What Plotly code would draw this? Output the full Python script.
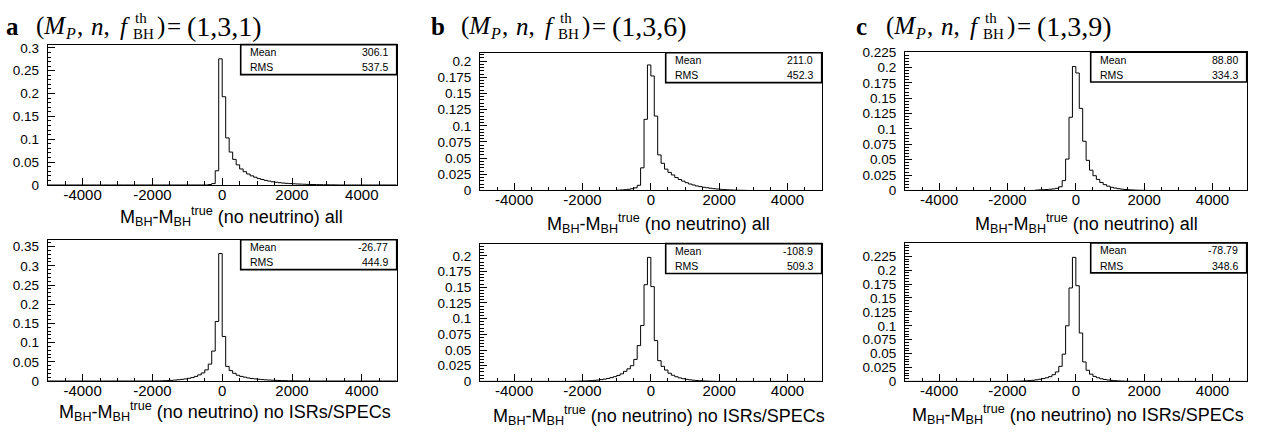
import plotly.graph_objects as go

# ---------------- data ----------------
bin_width = 100
x_low, x_high = -5000, 5000

# normalised bin contents, listed from the first non-empty bin (lower edge given)
a_all_start = -400
a_all = [0.001, 0.003, 0.031, 0.276, 0.193, 0.103, 0.072, 0.056, 0.044, 0.035,
         0.029, 0.024, 0.020, 0.017, 0.014, 0.012, 0.010, 0.0085, 0.007, 0.006,
         0.005, 0.0042, 0.0036, 0.003, 0.0026, 0.0022, 0.0019, 0.0016, 0.0013, 0.0011,
         0.0009, 0.0007, 0.0006, 0.0005, 0.0004, 0.0003, 0.0002]

a_nois_start = -2000
a_nois = [0.0002, 0.0003, 0.0005, 0.0008, 0.0012, 0.0017, 0.0024, 0.0032, 0.0042, 0.0055,
          0.007, 0.009, 0.012, 0.016, 0.021, 0.029, 0.044, 0.078, 0.155, 0.332,
          0.116, 0.038, 0.027, 0.020, 0.015, 0.012, 0.010, 0.008, 0.0065, 0.0055,
          0.0045, 0.0037, 0.003, 0.0025, 0.002, 0.0016, 0.0013, 0.001, 0.0008, 0.0006,
          0.0005, 0.0004, 0.0003, 0.0002]

b_all_start = -1000
b_all = [0.0005, 0.0008, 0.0012, 0.0018, 0.0027, 0.004, 0.008, 0.035, 0.110, 0.194,
         0.177, 0.115, 0.055, 0.042, 0.033, 0.028, 0.024, 0.020, 0.017, 0.0145,
         0.012, 0.010, 0.0085, 0.007, 0.006, 0.005, 0.0042, 0.0035, 0.0028, 0.0023,
         0.0018, 0.0014, 0.0011, 0.0008, 0.0006, 0.0004, 0.0003, 0.0002]

b_nois_start = -2300
b_nois = [0.0002, 0.0003, 0.0005, 0.0007, 0.0009, 0.0012, 0.0016, 0.0021, 0.0028, 0.0036,
          0.0047, 0.006, 0.0075, 0.0095, 0.012, 0.016, 0.020, 0.025, 0.035, 0.057,
          0.089, 0.154, 0.1975, 0.151, 0.065, 0.033, 0.024, 0.018, 0.013, 0.0098,
          0.0074, 0.0056, 0.0043, 0.0033, 0.0025, 0.0019, 0.0014, 0.001, 0.0007, 0.0005,
          0.0003, 0.0002]

c_all_start = -1200
c_all = [0.0006, 0.001, 0.0012, 0.0015, 0.002, 0.0026, 0.0035, 0.006, 0.016, 0.051,
         0.119, 0.2015, 0.191, 0.1335, 0.080, 0.049, 0.033, 0.024, 0.018, 0.013,
         0.0095, 0.007, 0.0052, 0.0039, 0.0029, 0.0022, 0.0016, 0.0012, 0.0009, 0.0006,
         0.0004, 0.0003, 0.0002]

c_nois_start = -1900
c_nois = [0.0002, 0.0003, 0.0005, 0.0007, 0.001, 0.0014, 0.002, 0.0028, 0.0038, 0.005,
          0.0065, 0.0085, 0.012, 0.017, 0.027, 0.049, 0.100, 0.168, 0.223, 0.172,
          0.087, 0.035, 0.020, 0.013, 0.009, 0.0065, 0.0047, 0.0034, 0.0025, 0.0018,
          0.0013, 0.0009, 0.0006, 0.0004, 0.0002]

stats_mean = {"a_all": "306.1", "a_nois": "-26.77", "b_all": "211.0",
              "b_nois": "-108.9", "c_all": "88.80", "c_nois": "-78.79"}
stats_rms = {"a_all": "537.5", "a_nois": "444.9", "b_all": "452.3",
             "b_nois": "509.3", "c_all": "334.3", "c_nois": "348.6"}

panel_letters = ["a", "b", "c"]
panel_params = ["(1,3,1)", "(1,3,6)", "(1,3,9)"]
xlabel_all = "M<sub>BH</sub>-M<sub>BH</sub><sup>true</sup> (no neutrino) all"
xlabel_nois = "M<sub>BH</sub>-M<sub>BH</sub><sup>true</sup> (no neutrino) no ISRs/SPECs"
x_ticks = [-4000, -2000, 0, 2000, 4000]

# ---------------- layout helpers ----------------
W, H = 1273, 437
def px(x):
    return x / W
def py(y):
    return 1 - y / H

SANS = "Liberation Sans, Arial, sans-serif"
SERIF = "Liberation Serif, Times New Roman, serif"

panels = [
    # key, values, start, frame(x0,x1,y0,y1), ymax, dtick, minor, xlabel, label centre
    ("a_all", a_all, a_all_start, (47.7, 396.7, 39.0, 184.3), 0.307, 0.05, 0.01, xlabel_all, 231, 217),
    ("a_nois", a_nois, a_nois_start, (47.7, 396.7, 241.0, 387.3), 0.368, 0.05, 0.01, xlabel_nois, 225, 419),
    ("b_all", b_all, b_all_start, (480.0, 821.7, 47.3, 190.0), 0.213, 0.025, 0.005, xlabel_all, 658, 224),
    ("b_nois", b_nois, b_nois_start, (480.0, 821.7, 245.0, 387.7), 0.2195, 0.025, 0.005, xlabel_nois, 659, 423),
    ("c_all", c_all, c_all_start, (905.0, 1246.7, 46.7, 190.0), 0.225, 0.025, 0.005, xlabel_all, 1086, 224),
    ("c_nois", c_nois, c_nois_start, (905.0, 1246.7, 244.3, 387.7), 0.249, 0.025, 0.005, xlabel_nois, 1078, 422),
]

fig = go.Figure()
shapes = []
annotations = []
layout = dict(width=W, height=H, margin=dict(l=0, r=0, t=0, b=0),
              paper_bgcolor="white", plot_bgcolor="white", showlegend=False)

nbins = (x_high - x_low) // bin_width
edges = [x_low + i * bin_width for i in range(nbins + 1)]

def ann(x, y, text, size, family=SANS, xanchor="left"):
    annotations.append(dict(xref="paper", yref="paper", x=px(x), y=py(y),
                            xanchor=xanchor, yanchor="middle", text=text, showarrow=False,
                            borderpad=0, font=dict(family=family, size=size, color="black")))

for i, (key, vals, start, fr, ymax, dt, mdt, xlab, tx, ty) in enumerate(panels):
    n = i + 1
    xa = "x" if n == 1 else f"x{n}"
    ya = "y" if n == 1 else f"y{n}"
    contents = [0.0] * nbins
    first = (start - x_low) // bin_width
    for j, v in enumerate(vals):
        contents[first + j] = v
    fig.add_trace(go.Scatter(
        x=edges, y=contents + [contents[-1]], xaxis=xa, yaxis=ya,
        mode="lines", line=dict(color="black", width=1, shape="hv"),
        hoverinfo="skip"))
    x0, x1, y0, y1 = fr
    layout["xaxis" if n == 1 else f"xaxis{n}"] = dict(
        domain=[px(x0), px(x1)], anchor=ya, range=[x_low, x_high],
        tickmode="array", tickvals=x_ticks, ticktext=[str(t) for t in x_ticks],
        ticks="inside", ticklen=7, tickwidth=1, tickcolor="black",
        minor=dict(dtick=500, tick0=0, ticks="inside", ticklen=3.5, tickcolor="black", tickwidth=1),
        showline=True, mirror=True, linecolor="black", linewidth=1,
        showgrid=False, zeroline=False, ticklabelstandoff=-4,
        tickfont=dict(family=SANS, size=15, color="black"))
    layout["yaxis" if n == 1 else f"yaxis{n}"] = dict(
        domain=[py(y1), py(y0)], anchor=xa, range=[0, ymax],
        tick0=0, dtick=dt,
        ticks="inside", ticklen=7, tickwidth=1, tickcolor="black",
        minor=dict(dtick=mdt, tick0=0, ticks="inside", ticklen=3.5, tickcolor="black", tickwidth=1),
        showline=True, mirror=True, linecolor="black", linewidth=1,
        showgrid=False, zeroline=False, ticklabelstandoff=5,
        tickfont=dict(family=SANS, size=13.5, color="black"))
    # stats box
    bw, bh = 156, 31
    bx0, bx1, by0, by1 = x1 - bw, x1, y0, y0 + bh
    shapes.append(dict(type="rect", xref="paper", yref="paper",
                       x0=px(bx0), x1=px(bx1), y0=py(by1), y1=py(by0),
                       line=dict(color="black", width=1.6), fillcolor="white"))
    for lab, val, dy in (("Mean", stats_mean[key], 7.8), ("RMS", stats_rms[key], 23.5)):
        ann(bx0 + 8, by0 + dy, lab, 10.5)
        ann(bx1 - 8, by0 + dy, val, 10.5, xanchor="right")
    # x axis title
    ann(tx, ty, xlab, 18, xanchor="center")

# panel titles, set piece by piece to follow the math layout
title_x = [5, 430, 855]
TS = 25
for k in range(3):
    o = title_x[k]
    ann(o, 20, f"<b>{panel_letters[k]}</b>", TS, SERIF)
    ann(o + 30, 20, "(<i>M</i>", TS, SERIF)
    ann(o + 59, 27, "<i>P</i>", 16, SERIF)
    ann(o + 71, 20, ",", TS, SERIF)
    ann(o + 85, 20, "<i>n</i>,", TS, SERIF)
    ann(o + 114, 20, "<i>f</i>", TS, SERIF)
    ann(o + 127, 28, "BH", 15, SERIF)
    ann(o + 129, 11, "th", 15, SERIF)
    ann(o + 151, 20, ")", TS, SERIF)
    ann(o + 161, 20, "=", TS, SERIF)
    ann(o + 181, 20, panel_params[k], 28, SERIF)

layout["shapes"] = shapes
layout["annotations"] = annotations
fig.update_layout(**layout)
fig.write_html("out.html")
